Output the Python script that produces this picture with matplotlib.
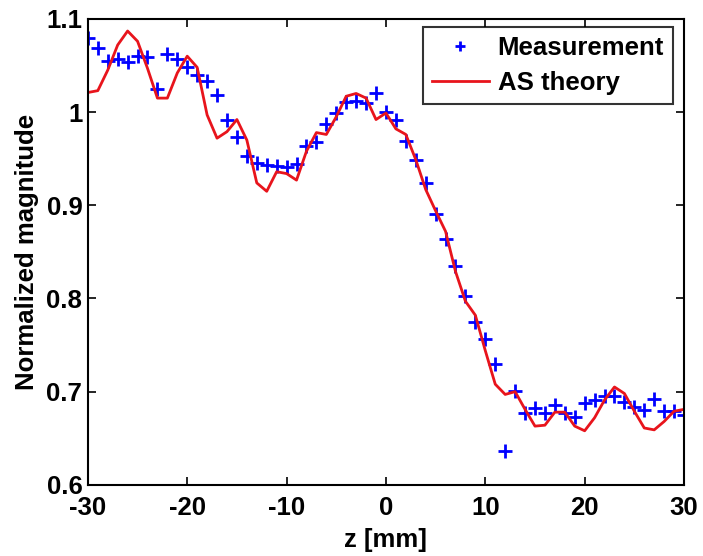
#Normalized magnitude vs z: measurement and AS theory
import numpy as np
import matplotlib
matplotlib.use('Agg')
import matplotlib.pyplot as plt

plt.rcParams['font.family'] = ['Liberation Sans', 'DejaVu Sans']
plt.rcParams['font.weight'] = 'bold'
plt.rcParams['axes.unicode_minus'] = False

#measurement points, one every mm
z_meas = np.arange(-30, 31)
meas = [1.079, 1.069, 1.055, 1.057, 1.054, 1.060, 1.059, 1.025, 1.062, 1.057,
		1.048, 1.040, 1.033, 1.018, 0.991, 0.973, 0.953, 0.945, 0.943, 0.942,
		0.941, 0.944, 0.964, 0.968, 0.987, 0.999, 1.011, 1.012, 1.010, 1.021,
		1.000, 0.991, 0.969, 0.949, 0.924, 0.891, 0.864, 0.835, 0.803, 0.775,
		0.756, 0.730, 0.636, 0.701, 0.677, 0.682, 0.677, 0.686, 0.677, 0.673,
		0.688, 0.691, 0.695, 0.695, 0.689, 0.684, 0.680, 0.692, 0.679, 0.679,
		0.675]

#theory curve
z_theory = np.arange(-30, 31)
theory = [1.021, 1.023, 1.045, 1.072, 1.087, 1.076, 1.047, 1.015, 1.015, 1.042,
		  1.060, 1.048, 0.997, 0.972, 0.979, 0.992, 0.970, 0.924, 0.915, 0.936,
		  0.934, 0.927, 0.958, 0.978, 0.976, 0.995, 1.017, 1.020, 1.015, 0.992,
		  0.999, 0.982, 0.976, 0.949, 0.917, 0.894, 0.872, 0.829, 0.797, 0.782,
		  0.744, 0.708, 0.697, 0.700, 0.681, 0.663, 0.664, 0.678, 0.678, 0.663,
		  0.658, 0.672, 0.691, 0.705, 0.698, 0.679, 0.661, 0.659, 0.668, 0.679,
		  0.681]

xticks = [-30, -20, -10, 0, 10, 20, 30]
yticks = [0.6, 0.7, 0.8, 0.9, 1.0, 1.1]
ytick_labels = ['0.6', '0.7', '0.8', '0.9', '1', '1.1']

fs = 18.5

fig = plt.figure(figsize=(7.03, 5.56), dpi=100)
ax = fig.add_axes([0.125, 0.128, 0.848, 0.838])

ax.plot(z_meas, meas, '+', color='#0000ff', markersize=10, markeredgewidth=2,
		label='Measurement')
ax.plot(z_theory, theory, '-', color='#e8141c', linewidth=2, label='AS theory')

ax.set_xlim(-30, 30)
ax.set_ylim(0.6, 1.1)
ax.set_xticks(xticks)
ax.set_yticks(yticks)
ax.set_yticklabels(ytick_labels)
ax.tick_params(direction='in', top=True, right=True, length=6, width=1.2,
			   labelsize=fs)
ax.tick_params(axis='x', pad=8)
ax.tick_params(axis='y', pad=4)
for s in ax.spines.values():
	s.set_linewidth(1.5)

ax.set_xlabel('z [mm]', fontsize=fs, fontweight='bold')
ax.set_ylabel('Normalized magnitude', fontsize=fs, fontweight='bold')
ax.xaxis.label.set_va('center')
ax.yaxis.label.set_va('center')
ax.xaxis.set_label_coords(0.5, -0.118)
ax.yaxis.set_label_coords(-0.102, 0.5)

leg = ax.legend(loc='upper right', bbox_to_anchor=(0.9815, 0.983), fontsize=fs,
				frameon=True, fancybox=False, edgecolor='black', borderaxespad=0,
				handlelength=2.2, handletextpad=0.35, borderpad=0.35,
				labelspacing=0.45, markerscale=0.7)
leg.get_frame().set_linewidth(1.5)
for t in leg.get_texts():
	t.set_fontweight('bold')

fig.savefig('out.png', dpi=100)
